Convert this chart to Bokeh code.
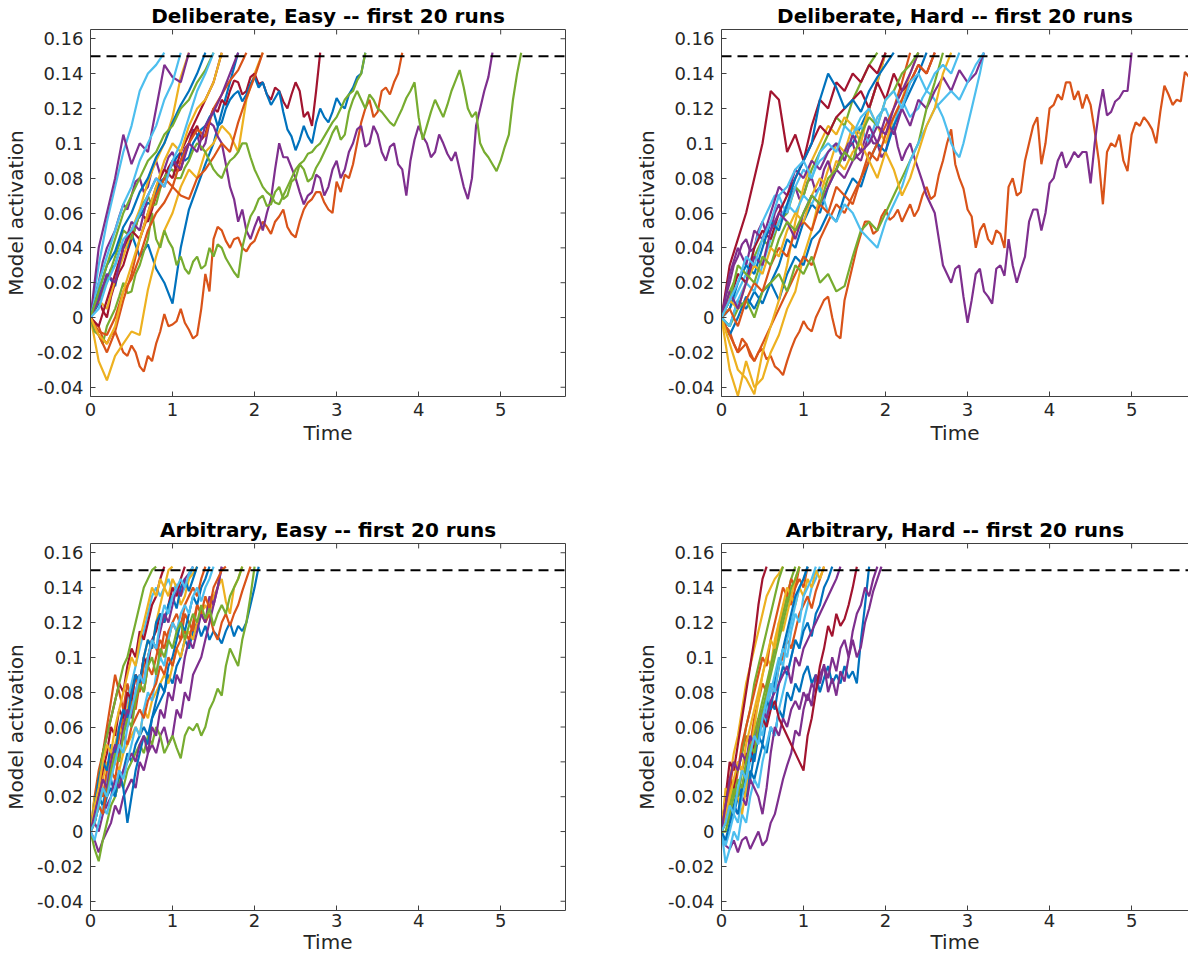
import numpy as np
from bokeh.plotting import figure
from bokeh.layouts import column, row
from bokeh.models import LinearAxis, Span, FixedTicker, Range1d
from bokeh.embed import file_html
from bokeh.resources import INLINE

FONT = "DejaVu Sans"
COLORS = ["#0072BD", "#D95319", "#EDB120", "#7E2F8E", "#77AC30", "#4DBEEE", "#A2142F"]
THRESHOLD = 0.15

titles = ["Deliberate, Easy -- first 20 runs", "Deliberate, Hard -- first 20 runs",
          "Arbitrary, Easy -- first 20 runs", "Arbitrary, Hard -- first 20 runs"]
x_ticks = [0, 1, 2, 3, 4, 5]
y_ticks = [-0.04, -0.02, 0, 0.02, 0.04, 0.06, 0.08, 0.1, 0.12, 0.14, 0.16]
y_tick_labels = ["-0.04", "-0.02", "0", "0.02", "0.04", "0.06", "0.08", "0.1", "0.12", "0.14", "0.16"]

# sample times of the runs (s): coarse (0.1 s) and fine (0.05 s) sampling
time_coarse = [0.0, 0.1, 0.2, 0.3, 0.4, 0.5, 0.6, 0.7, 0.8, 0.9, 1.0, 1.1, 1.2, 1.3, 1.4, 1.5, 1.6, 1.7, 1.8, 1.9,
               2.0, 2.1, 2.2, 2.3, 2.4, 2.5, 2.6, 2.7, 2.8, 2.9, 3.0, 3.1, 3.2, 3.3, 3.4, 3.5, 3.6, 3.7, 3.8, 3.9,
               4.0, 4.1, 4.2, 4.3, 4.4, 4.5, 4.6, 4.7, 4.8, 4.9, 5.0, 5.1, 5.2, 5.3, 5.4, 5.5, 5.6, 5.7, 5.8, 5.9]
time_fine = [0.0, 0.05, 0.1, 0.15, 0.2, 0.25, 0.3, 0.35, 0.4, 0.45, 0.5, 0.55, 0.6, 0.65, 0.7, 0.75, 0.8, 0.85,
             0.9, 0.95, 1.0, 1.05, 1.1, 1.15, 1.2, 1.25, 1.3, 1.35, 1.4, 1.45, 1.5, 1.55, 1.6, 1.65, 1.7, 1.75,
             1.8, 1.85, 1.9, 1.95, 2.0, 2.05, 2.1, 2.15, 2.2, 2.25, 2.3, 2.35, 2.4, 2.45, 2.5, 2.55, 2.6, 2.65,
             2.7, 2.75, 2.8, 2.85, 2.9, 2.95, 3.0, 3.05, 3.1, 3.15, 3.2, 3.25, 3.3, 3.35, 3.4, 3.45, 3.5, 3.55,
             3.6, 3.65, 3.7, 3.75, 3.8, 3.85, 3.9, 3.95, 4.0, 4.05, 4.1, 4.15, 4.2, 4.25, 4.3, 4.35, 4.4, 4.45,
             4.5, 4.55, 4.6, 4.65, 4.7, 4.75, 4.8, 4.85, 4.9, 4.95, 5.0, 5.05, 5.1, 5.15, 5.2, 5.25, 5.3, 5.35,
             5.4, 5.45, 5.5, 5.55, 5.6, 5.65, 5.7, 5.75, 5.8, 5.85, 5.9]

# model activation of each run, in thousandths; *_fine marks runs sampled on the fine grid
de_runs = [
    [0, 8, 25, 18, 40, 48, 35, 42, 28, 20, 8, 40, 62, 75, 88, 100, 118, 135, 152],
    [0, -3, -5, -12, -15, -10, -8, -14, -20, -22, -16, -20, -28, -31, -22, -25, -15, -8, 2, -5, -4, -2, 5, -3, -7, -12, -10, 5, 25, 15, 45, 52, 50, 44, 40, 45, 46, 40, 38, 42, 44, 50, 55, 52, 48, 55, 58, 62, 52, 48, 46, 55, 62, 66, 68, 72, 72, 66, 62, 60, 78, 72, 82, 80, 88, 100, 112, 120, 125, 115, 118, 130, 132, 128, 135, 140, 152],
    [0, -25, -36, -22, -15, -8, -10, 16, 35, 50, 60, 75, 85, 80, 95, 100, 110, 105, 95, 125, 140, 152],
    [0, 12, 20, 32, 40, 45, 50, 58, 65, 62, 70, 78, 80, 72, 75, 85, 90, 82, 85, 92, 95, 88, 90, 97, 100, 108, 105, 96, 100, 112, 110, 104, 100, 88, 75, 68, 55, 62, 50, 45, 52, 58, 50, 60, 68, 85, 100, 92, 92, 86, 80, 72, 65, 70, 72, 82, 80, 70, 75, 85, 90, 80, 85, 95, 100, 108, 110, 98, 100, 110, 105, 95, 90, 98, 100, 88, 85, 70, 90, 102, 110, 104, 100, 92, 95, 105, 100, 94, 90, 95, 85, 75, 68, 80, 110, 120, 130, 138, 152],
    [0, -8, -10, -15, -5, 0, 5, 12, 20, 14, 15, 25, 30, 38, 45, 60, 45, 40, 50, 44, 40, 30, 35, 28, 25, 32, 35, 28, 30, 40, 35, 42, 40, 34, 30, 26, 23, 40, 50, 58, 62, 68, 70, 64, 65, 72, 75, 68, 70, 78, 80, 88, 85, 78, 80, 86, 90, 95, 100, 106, 110, 102, 105, 118, 125, 130, 125, 120, 128, 125, 120, 118, 115, 112, 110, 115, 120, 126, 130, 135, 115, 102, 110, 118, 125, 120, 115, 122, 130, 136, 142, 132, 120, 115, 118, 100, 95, 92, 88, 84, 90, 98, 105, 125, 140, 152],
    [0, 30, 55, 75, 95, 110, 130, 140, 145, 152],
    [0, 6, 10, 4, 0, 12, 20, 26, 30, 38, 45, 52, 60, 58, 55, 62, 70, 76, 80, 86, 90, 84, 85, 94, 100, 106, 110, 102, 105, 114, 120, 118, 125, 122, 130, 136, 135, 128, 130, 138, 140, 134, 135, 128, 125, 132, 130, 124, 120, 128, 135, 130, 115, 118, 110, 130, 152],
    [0, 5, 12, 18, 22, 28, 30, 38, 42, 40, 50, 55, 58, 62, 66, 64, 72, 78, 80, 84, 88, 92, 95, 90, 92, 100, 104, 108, 110, 115, 118, 110, 112, 120, 125, 128, 130, 124, 128, 134, 138, 132, 135, 128, 122, 126, 130, 118, 108, 104, 96, 102, 110, 104, 100, 112, 120, 115, 112, 118, 126, 122, 120, 128, 132, 138, 140, 152],
    [0, -8, -10, 0, 15, 22, 35, 50, 60, 66, 75, 70, 68, 80, 85, 92, 100, 95, 112, 126, 138, 152],
    [0, 10, 5, 22, 35, 50, 62, 78, 90, 100, 115, 138, 152],
    [0, 40, 60, 80, 105, 88, 100, 95, 120, 145, 138, 135, 152],
    [0, 5, 10, 16, 20, 28, 35, 42, 50, 48, 45, 52, 60, 66, 70, 64, 65, 74, 80, 84, 85, 80, 80, 86, 90, 96, 100, 98, 95, 90, 85, 82, 80, 86, 90, 92, 95, 100, 100, 92, 85, 80, 75, 72, 70, 66, 65, 70, 75, 80, 85, 88, 90, 94, 95, 98, 100, 104, 108, 112, 115, 120, 125, 128, 130, 136, 140, 152],
    [0, 20, 35, 50, 65, 75, 90, 100, 110, 125, 135, 152],
    [0, -5, 10, 25, 40, 50, 45, 60, 75, 85, 80, 95, 105, 115, 125, 135, 152],
    [0, 15, 30, 38, 52, 60, 72, 80, 92, 100, 112, 122, 130, 140, 152],
    [0, -10, -20, -8, 10, 25, 45, 58, 70, 80, 75, 90, 100, 108, 104, 120, 128, 136, 142, 152],
    [0, -10, -15, -5, 15, 30, 45, 60, 75, 90, 100, 95, 110, 120, 125, 135, 152],
    [0, 10, 25, 20, 40, 55, 50, 70, 80, 75, 90, 85, 100, 95, 110, 118, 128, 140, 152],
    [0, 15, 30, 45, 60, 70, 80, 90, 95, 105, 110, 120, 125, 135, 142, 152],
    [0, 5, 20, 30, 45, 50, 60, 70, 80, 75, 90, 100, 115, 130, 140, 152],
]
de_fine = [False, True, False, True, True, False, True, True, False, False,
           False, True, False, False, False, False, False, False, False, False]

dh_runs = [
    [0, -5, 10, 5, 15, 8, 20, 30, 45, 40, 55, 65, 60, 75, 85, 95, 100, 110, 120, 135, 152],
    [0, -5, -8, -15, -20, -12, -15, -22, -25, -20, -18, -24, -22, -28, -30, -33, -25, -18, -12, -8, -2, -6, -8, 0, 5, 10, 12, 0, -10, -12, 10, 20, 30, 40, 48, 55, 55, 48, 50, 58, 62, 56, 58, 62, 55, 60, 65, 58, 62, 70, 75, 68, 70, 82, 90, 100, 108, 88, 80, 74, 62, 58, 40, 50, 54, 45, 42, 50, 48, 40, 75, 80, 70, 72, 90, 100, 110, 115, 88, 100, 120, 122, 128, 125, 135, 135, 125, 130, 120, 128, 122, 107, 90, 65, 95, 100, 98, 105, 90, 84, 105, 112, 110, 115, 112, 108, 100, 118, 133, 128, 122, 125, 124, 141, 138, 149, 152],
    [0, -30, -45, -25, -40, -35, -20, -10, 5, 15, 35, 50, 70, 85, 100, 95, 110, 105, 120, 135, 152],
    [0, 12, 20, 30, 35, 42, 45, 38, 40, 50, 55, 48, 50, 60, 65, 58, 60, 70, 75, 68, 70, 78, 80, 72, 75, 85, 90, 82, 85, 92, 95, 100, 100, 92, 90, 98, 105, 100, 100, 92, 95, 105, 110, 98, 90, 96, 100, 92, 85, 78, 70, 65, 60, 45, 30, 25, 20, 28, 30, 12, -3, 10, 25, 28, 15, 12, 8, 28, 30, 24, 45, 30, 20, 28, 35, 55, 62, 62, 50, 60, 77, 80, 90, 95, 86, 90, 95, 92, 95, 95, 77, 100, 118, 131, 116, 118, 124, 126, 130, 130, 152],
    [0, 15, 25, 20, 35, 45, 40, 55, 60, 75, 70, 85, 95, 105, 115, 110, 125, 135, 145, 152],
    [0, 2, 5, 10, 15, 20, 25, 32, 40, 48, 55, 60, 65, 70, 70, 64, 60, 68, 75, 80, 85, 82, 80, 86, 90, 92, 95, 98, 100, 94, 90, 98, 105, 108, 110, 104, 100, 108, 115, 118, 120, 114, 110, 118, 125, 120, 115, 118, 120, 126, 130, 128, 125, 120, 115, 108, 100, 95, 92, 100, 110, 120, 130, 140, 152],
    [0, 30, 45, 60, 80, 100, 130, 125, 95, 105, 90, 110, 125, 120, 135, 130, 140, 135, 145, 140, 152],
    [0, -10, 0, 12, 5, 15, 20, 10, 25, 35, 30, 45, 50, 60, 55, 70, 80, 75, 90, 100, 95, 110, 120, 130, 140, 152],
    [0, -10, -20, -15, -25, -15, -5, 5, 15, 25, 35, 30, 45, 55, 65, 60, 70, 80, 90, 100, 110, 120, 135, 152],
    [0, -15, -30, -35, -44, -20, -5, 10, 30, 55, 75, 90, 100, 110, 105, 115, 110, 100, 120, 110, 100, 115, 125, 140, 152],
    [0, 25, 40, 30, 50, 45, 60, 75, 70, 85, 80, 90, 85, 95, 100, 90, 105, 95, 110, 100, 115, 105, 120, 110, 125, 120, 130, 138, 130, 142, 135, 140, 152],
    [0, -5, 5, 10, 0, 15, 20, 25, 15, 30, 25, 35, 20, 25, 15, 18, 35, 50, 55, 50, 60, 70, 80, 90, 100, 120, 135, 152],
    [0, -5, 10, 20, 15, 30, 45, 55, 65, 60, 70, 65, 75, 60, 55, 65, 60, 50, 45, 40, 55, 65, 75, 90, 100, 110, 120, 125, 130, 125, 135, 145, 152],
    [0, 10, 25, 20, 40, 50, 45, 60, 70, 80, 90, 100, 110, 105, 115, 120, 125, 130, 120, 135, 125, 140, 130, 135, 145, 140, 152],
    [0, 5, 20, 30, 25, 40, 55, 50, 65, 80, 90, 100, 125, 140, 132, 120, 125, 118, 130, 138, 145, 152],
    [0, 5, -5, 10, 20, 15, 30, 40, 35, 50, 55, 50, 65, 60, 75, 70, 65, 80, 95, 90, 105, 115, 125, 135, 145, 140, 152],
    [0, 10, 5, 20, 30, 25, 40, 35, 50, 60, 55, 70, 80, 75, 90, 85, 95, 100, 90, 80, 95, 85, 70, 80, 95, 110, 120, 140, 152],
    [0, 15, 5, 20, 35, 30, 50, 60, 55, 45, 60, 70, 65, 75, 85, 80, 90, 95, 100, 110, 105, 120, 130, 140, 152],
    [0, 10, 30, 25, 20, 35, 30, 45, 55, 50, 60, 70, 65, 80, 85, 95, 90, 105, 115, 110, 125, 130, 140, 145, 152],
    [0, 10, 20, 35, 30, 45, 55, 70, 75, 85, 90, 80, 95, 100, 95, 110, 105, 115, 120, 110, 125, 130, 120, 135, 140, 130, 140, 145, 140, 152],
]
dh_fine = [False, True, False, True, False, True, False, False, False, False,
           False, False, False, False, False, False, False, False, False, False]

ae_runs = [
    [0, 5, 15, 10, 20, 25, 20, 30, 35, 45, 40, 50, 55, 60, 55, 65, 70, 75, 80, 90, 85, 95, 100, 110, 105, 115, 120, 112, 118, 110, 115, 112, 108, 115, 120, 112, 118, 115, 120, 130, 140, 152],
    [0, 20, 35, 45, 60, 75, 90, 80, 70, 85, 75, 90, 80, 95, 100, 110, 105, 100, 115, 110, 120, 115, 110, 125, 120, 115, 130, 125, 120, 125, 115, 110, 120, 125, 118, 125, 130, 138, 145, 152],
    [0, 10, 20, 30, 25, 35, 40, 35, 45, 50, 55, 60, 55, 70, 65, 75, 80, 85, 90, 85, 95, 105, 100, 110, 115, 110, 120, 125, 130, 125, 135, 140, 145, 132, 125, 140, 145, 152],
    [0, -5, -12, -5, 0, 5, 15, 10, 20, 25, 30, 25, 40, 35, 45, 50, 45, 55, 60, 50, 55, 70, 65, 80, 75, 90, 95, 100, 110, 120, 130, 140, 152],
    [0, -10, -17, -5, 5, 15, 20, 30, 25, 35, 40, 45, 50, 45, 55, 50, 60, 55, 45, 50, 55, 48, 42, 55, 60, 58, 62, 55, 60, 70, 75, 82, 78, 95, 105, 100, 95, 110, 120, 135, 152],
    [0, 10, 20, 15, 30, 40, 45, 55, 65, 75, 85, 95, 105, 115, 125, 135, 140, 135, 140, 145, 138, 142, 135, 140, 145, 152],
    [0, 15, 30, 45, 55, 65, 75, 85, 80, 95, 105, 100, 115, 110, 120, 130, 135, 145, 152],
    [0, 10, 20, 15, 25, 30, 20, 35, 25, 5, 20, 35, 45, 55, 50, 65, 75, 85, 80, 95, 100, 110, 120, 115, 125, 135, 130, 140, 145, 152],
    [0, 10, 25, 20, 35, 45, 40, 55, 65, 60, 75, 70, 85, 80, 95, 90, 100, 110, 105, 115, 120, 125, 118, 130, 135, 140, 135, 145, 152],
    [0, 20, 15, 30, 40, 35, 50, 60, 55, 70, 80, 90, 85, 100, 110, 105, 120, 130, 140, 135, 145, 140, 130, 135, 145, 148, 152],
    [0, 5, 0, 10, 15, 20, 30, 25, 35, 40, 45, 40, 50, 55, 45, 60, 55, 70, 65, 80, 75, 90, 85, 100, 110, 105, 115, 125, 120, 135, 130, 140, 152],
    [0, 15, 30, 45, 55, 65, 75, 85, 95, 100, 110, 120, 130, 140, 145, 150, 152],
    [0, -5, 5, 15, 10, 20, 25, 35, 30, 40, 50, 60, 55, 70, 80, 75, 90, 100, 95, 110, 120, 115, 125, 130, 125, 135, 140, 132, 140, 145, 152],
    [0, 10, 25, 35, 45, 60, 55, 70, 65, 80, 75, 90, 85, 100, 95, 110, 115, 125, 120, 130, 140, 135, 145, 152],
    [0, 15, 30, 40, 35, 50, 45, 60, 70, 65, 80, 90, 85, 100, 110, 105, 120, 125, 120, 130, 135, 128, 140, 145, 138, 145, 152],
    [0, 5, 15, 10, 25, 35, 30, 45, 55, 50, 60, 65, 70, 65, 75, 80, 85, 95, 90, 100, 95, 105, 110, 115, 110, 120, 130, 125, 135, 128, 140, 145, 150, 152],
    [0, 15, 25, 40, 50, 45, 60, 70, 80, 90, 100, 95, 110, 120, 130, 140, 135, 145, 140, 150, 152],
    [0, 10, 20, 30, 25, 40, 50, 45, 60, 70, 65, 80, 90, 85, 100, 110, 105, 115, 125, 120, 130, 140, 135, 145, 148, 152],
    [0, 5, 15, 25, 20, 35, 45, 40, 55, 65, 60, 75, 85, 80, 95, 100, 90, 105, 100, 110, 105, 115, 120, 110, 118, 125, 120, 130, 122, 128, 118, 125, 130, 125, 135, 140, 145, 152],
    [0, 5, 15, 25, 20, 30, 40, 50, 45, 60, 70, 80, 90, 85, 100, 110, 105, 120, 130, 125, 135, 140, 145, 140, 148, 152],
]
ae_fine = [True] * 20

ah_runs = [
    [0, 5, 15, 10, 20, 25, 20, 35, 30, 40, 50, 45, 60, 55, 70, 65, 80, 75, 85, 80, 90, 95, 85, 90, 80, 88, 95, 85, 90, 85, 95, 88, 92, 85, 110, 130, 152],
    [0, 10, 25, 20, 35, 45, 55, 50, 65, 75, 85, 80, 95, 105, 115, 125, 135, 130, 140, 145, 140, 152],
    [0, 20, 30, 45, 55, 70, 85, 95, 105, 115, 125, 135, 140, 145, 148, 152],
    [0, -8, -10, -5, -12, -5, -3, -10, -5, 0, -8, -5, 5, 10, 20, 30, 38, 45, 58, 55, 70, 79, 72, 90, 85, 96, 80, 88, 78, 92, 86, 100, 110, 100, 106, 120, 128, 138, 145, 152],
    [0, 10, 20, 30, 35, 45, 60, 70, 85, 95, 105, 115, 125, 135, 145, 152],
    [0, -18, -10, 0, -5, 10, 5, 20, 30, 25, 40, 50, 60, 55, 70, 80, 90, 100, 110, 105, 120, 130, 140, 145, 152],
    [0, 20, 40, 35, 50, 65, 80, 95, 110, 130, 145, 152],
    [0, 10, 5, 15, 25, 20, 35, 30, 45, 55, 50, 65, 75, 70, 85, 95, 90, 100, 110, 105, 115, 120, 112, 125, 130, 140, 145, 152],
    [0, 5, 15, 25, 20, 35, 30, 45, 55, 65, 60, 75, 85, 80, 95, 100, 110, 105, 115, 125, 130, 135, 128, 138, 145, 152],
    [0, 25, 15, 30, 20, 10, 25, 45, 60, 75, 90, 100, 95, 110, 120, 115, 125, 135, 130, 140, 135, 145, 140, 150, 145, 152],
    [0, 10, 5, 15, 10, 20, 15, 30, 25, 20, 10, 25, 45, 60, 55, 65, 60, 70, 75, 70, 80, 75, 85, 80, 90, 95, 88, 100, 92, 105, 110, 100, 115, 125, 130, 140, 135, 145, 152],
    [0, 5, 15, 25, 20, 35, 30, 45, 55, 65, 75, 85, 95, 105, 115, 125, 135, 145, 152],
    [0, -8, 0, 10, 5, 20, 30, 40, 50, 60, 55, 70, 80, 90, 100, 95, 110, 120, 130, 140, 145, 152],
    [0, 15, 30, 25, 40, 35, 45, 40, 50, 55, 65, 60, 70, 75, 65, 60, 55, 50, 45, 40, 35, 55, 65, 80, 95, 105, 118, 112, 125, 118, 122, 130, 140, 152],
    [0, -5, 5, 15, 10, 25, 35, 45, 40, 55, 65, 75, 70, 85, 95, 105, 115, 125, 135, 140, 145, 152],
    [0, 15, 25, 40, 35, 50, 60, 70, 80, 90, 100, 95, 110, 120, 130, 140, 135, 145, 140, 152],
    [0, 10, 20, 30, 40, 35, 50, 60, 70, 80, 90, 100, 110, 105, 120, 130, 140, 135, 145, 152],
    [0, 15, 30, 40, 35, 45, 40, 55, 50, 60, 70, 65, 75, 80, 85, 90, 95, 85, 100, 95, 105, 110, 115, 120, 125, 130, 135, 140, 145, 152],
    [0, 0, 10, 20, 30, 25, 40, 50, 45, 60, 70, 80, 90, 100, 110, 120, 130, 140, 145, 152],
    [0, 5, 15, 10, 25, 35, 30, 45, 55, 50, 65, 75, 85, 80, 95, 105, 100, 115, 125, 120, 135, 140, 145, 152],
]
ah_fine = [True] * 20

AX_COLOR = "#404040"
TXT_COLOR = "#262626"
PX_PER_UNIT = 82.9
PX_PER_ACT = 1758.0
TICK_PX = 5
Y_LO, Y_HI = -0.0453, 0.1653


def style_main_axis(ax, ticks):
    ax.ticker = FixedTicker(ticks=ticks)
    ax.major_tick_in = TICK_PX
    ax.major_tick_out = 0
    ax.minor_tick_in = 0
    ax.minor_tick_out = 0
    ax.axis_line_color = AX_COLOR
    ax.major_tick_line_color = AX_COLOR
    ax.major_label_text_font = FONT
    ax.major_label_text_font_size = "18px"
    ax.major_label_text_color = TXT_COLOR
    ax.axis_label_text_font = FONT
    ax.axis_label_text_font_size = "20px"
    ax.axis_label_text_font_style = "normal"
    ax.axis_label_text_color = TXT_COLOR


def box_line():
    return LinearAxis(ticker=FixedTicker(ticks=[]), major_tick_in=0, major_tick_out=0,
                      minor_tick_in=0, minor_tick_out=0, major_label_standoff=0,
                      axis_label_standoff=0, axis_line_color=AX_COLOR)


def make_panel(title, runs, fine, width, height, frame_w, border_right, border_bottom,
               right_box, xlab_standoffs):
    x_end = frame_w / PX_PER_UNIT
    p = figure(width=width, height=height, x_range=Range1d(0, x_end),
               y_range=Range1d(Y_LO, Y_HI), output_backend="svg", toolbar_location=None,
               min_border_left=85, min_border_right=border_right, min_border_top=26,
               min_border_bottom=border_bottom, title=title)
    p.title.text_font = FONT
    p.title.text_font_size = "20px"
    p.title.text_font_style = "bold"
    p.title.text_color = "black"
    p.title.align = "center"
    p.title.standoff = 3
    p.grid.visible = False
    p.outline_line_color = None
    for i, r in enumerate(runs):
        times = time_fine if fine[i] else time_coarse
        p.line(times[:len(r)], np.array(r) / 1000.0, line_color=COLORS[i % 7], line_width=2.2)
    p.add_layout(Span(location=THRESHOLD, dimension="width", line_color="black",
                      line_width=2, line_dash="10 6"))
    style_main_axis(p.xaxis[0], x_ticks)
    p.xaxis[0].axis_label = "Time"
    p.xaxis[0].major_label_standoff = xlab_standoffs[0]
    p.xaxis[0].axis_label_standoff = xlab_standoffs[1]
    style_main_axis(p.yaxis[0], y_ticks)
    p.yaxis[0].axis_label = "Model activation"
    p.yaxis[0].major_label_standoff = 7
    p.yaxis[0].axis_label_standoff = 6
    p.yaxis[0].major_label_overrides = {t: s for t, s in zip(y_ticks, y_tick_labels)}
    # box: top edge (and right edge where visible) with inward ticks
    p.add_layout(box_line(), "above")
    tick_dy = TICK_PX / PX_PER_ACT
    p.segment(x0=x_ticks, y0=[Y_HI] * len(x_ticks), x1=x_ticks, y1=[Y_HI - tick_dy] * len(x_ticks),
              line_color=AX_COLOR, line_width=1)
    if right_box:
        p.add_layout(box_line(), "right")
        tick_dx = TICK_PX / PX_PER_UNIT
        p.segment(x0=[x_end] * len(y_ticks), y0=y_ticks, x1=[x_end - tick_dx] * len(y_ticks), y1=y_ticks,
                  line_color=AX_COLOR, line_width=1)
    return p


p1 = make_panel(titles[0], de_runs, de_fine, 631, 514, 480, 66, 118, True, (6, 2))
p2 = make_panel(titles[1], dh_runs, dh_fine, 557, 514, 472, 0, 118, False, (6, 2))
p3 = make_panel(titles[2], ae_runs, ae_fine, 631, 444, 480, 66, 48, True, (3, 0))
p4 = make_panel(titles[3], ah_runs, ah_fine, 557, 444, 472, 0, 48, False, (3, 0))

layout = column(row(p1, p2), row(p3, p4))
open("out.html", "w").write(file_html(layout, INLINE))
